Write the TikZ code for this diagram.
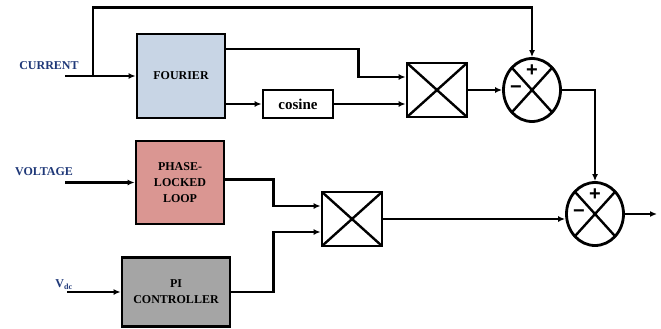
\documentclass[tikz,border=0pt]{standalone}
\usepackage{fontspec}
\setmainfont{Liberation Serif}
\setsansfont{Liberation Sans}
\usetikzlibrary{arrows.meta,positioning,shapes.geometric}
\definecolor{fourierblue}{HTML}{C8D5E5}
\definecolor{pllred}{HTML}{DA9692}
\definecolor{pigray}{HTML}{A5A5A5}
\definecolor{lblblue}{HTML}{1F3878}

\begin{document}
\begin{tikzpicture}[x=1pt,y=-1pt,line width=2.8pt,
  block/.style={draw,inner sep=0pt,align=center,font=\fontsize{12}{16}\selectfont\bfseries},
  mult/.style={draw,inner sep=0pt,minimum width=60pt,minimum height=54pt,
    path picture={\draw[line width=2.4pt] (path picture bounding box.north west) -- (path picture bounding box.south east)
      (path picture bounding box.north east) -- (path picture bounding box.south west);}},
  summer/.style={draw,ellipse,inner sep=0pt,minimum width=57pt,minimum height=63pt,
    path picture={\draw[line width=2.4pt] (path picture bounding box.north west) -- (path picture bounding box.south east)
      (path picture bounding box.north east) -- (path picture bounding box.south west);}},
  sgn/.style={font=\fontsize{20}{20}\selectfont\bfseries\sffamily,inner sep=0pt},
  lbl/.style={font=\fontsize{12}{14}\selectfont\bfseries,text=lblblue,inner sep=0pt},
  conn/.style={-{Latex[length=7pt,width=6pt]}}]
  \useasboundingbox (0,0) rectangle (661,329);

  % Blocks
  \node[block,fill=fourierblue,minimum width=88pt,minimum height=84pt] (fourier) at (181,76) {FOURIER};
  \node[block,minimum width=70pt,minimum height=28pt,font=\fontsize{15}{15}\selectfont\bfseries] (cosine) at (298,104) {cosine};
  \node[block,fill=pllred,minimum width=88pt,minimum height=83pt] (pll) at (180,182.5) {PHASE-\\LOCKED\\LOOP};
  \node[block,fill=pigray,minimum width=108pt,minimum height=69pt] (pi) at (176,292) {PI\\CONTROLLER};
  \node[mult] (mult1) at (437,90) {};
  \node[mult] (mult2) at (352,219) {};
  \node[summer] (sum1) at (532,90) {};
  \node[summer] (sum2) at (595,214) {};
  \node[sgn] (p1) at ([yshift=19pt]sum1.center) {+};
  \node[sgn] (m1) at ([xshift=-16pt]sum1.center) {\textminus};
  \node[sgn] (p2) at ([yshift=19pt]sum2.center) {+};
  \node[sgn] (m2) at ([xshift=-16pt]sum2.center) {\textminus};

  % Inputs
  \node[lbl] (current) at (49,66) {CURRENT};
  \node[lbl] (voltage) at (44,172) {VOLTAGE};
  \node[lbl] (vdc) at (64,285) {V\textsubscript{dc}};
  \coordinate (inI) at (65,76);
  \coordinate (tap) at (93,76);
  \coordinate (inV) at (65,182.5);
  \coordinate (inD) at (67,292);
  \coordinate (out) at (657,214);

  \draw[conn] (inI) -- (fourier.west);
  \draw[conn] (inV) -- (pll.west);
  \draw[conn] (inD) -- (pi.west);

  % Current branch
  \draw[conn] (tap) -- ++(0,-68.5) -| (sum1.north);
  \draw[conn] ([yshift=27pt]fourier.east) -- ++(132,0) |- ([yshift=13pt]mult1.west);
  \draw[conn] (cosine.west -| fourier.east) -- (cosine.west);
  \draw[conn] (cosine.east) -- (cosine.east -| mult1.west);
  \draw[conn] (mult1.east) -- (sum1.west);
  \draw[conn] (sum1.east) -| (sum2.north);

  % Voltage branch
  \draw[conn] ([yshift=3pt]pll.east) -- ++(48,0) |- ([yshift=13pt]mult2.west);
  \draw[conn] (pi.east) -- ++(42,0) |- ([yshift=-13pt]mult2.west);
  \draw[conn] (mult2.east) -- (mult2.east -| sum2.west);
  \draw[conn] (sum2.east) -- (out);
\end{tikzpicture}
\end{document}
